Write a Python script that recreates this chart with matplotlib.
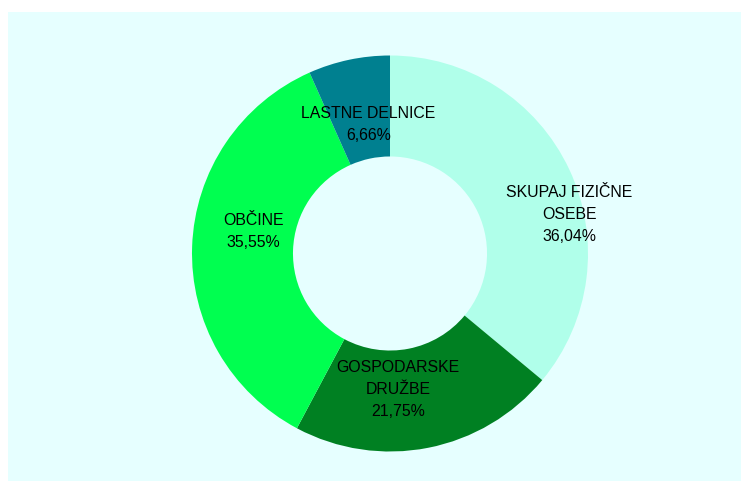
import numpy as np
import matplotlib.pyplot as plt
from matplotlib.patches import Rectangle

# Podatki
kategorije = ['SKUPAJ FIZIČNE\nOSEBE', 'GOSPODARSKE\nDRUŽBE', 'OBČINE', 'LASTNE DELNICE']
deleži = [36.04, 21.75, 35.55, 6.66]
barve = ['#B0FFEA', '#008022', '#00FF50', '#008090']

plt.rcParams['font.family'] = ['Liberation Sans', 'DejaVu Sans']

fig = plt.figure(figsize=(7.41, 4.84), dpi=100)
fig.patch.set_facecolor('white')

# Svetlo ozadje grafa
fig.patches.append(Rectangle((8 / 741, 3 / 484), 733 / 741, 469 / 484,
                             transform=fig.transFigure, facecolor='#E6FFFF',
                             edgecolor='none', zorder=-10))

ax = fig.add_axes([192 / 741, 32.5 / 484, 396 / 741, 396 / 484])
ax.set_facecolor('none')
ax.set_zorder(5)

wedges, _ = ax.pie(deleži, colors=barve, startangle=90, counterclock=False,
                   radius=1.0, wedgeprops=dict(width=0.51, edgecolor='none'))

# Položaji oznak (polmer, kot) kot v Excelu
polozaji = [(0.926, 12.4), (0.69, -86.6), (0.70, 170.7), (0.66, 99.6)]
for ime, vrednost, (r, kot) in zip(kategorije, deleži, polozaji):
    x = r * np.cos(np.radians(kot))
    y = r * np.sin(np.radians(kot))
    besedilo = ime + '\n' + f'{vrednost:.2f}'.replace('.', ',') + '%'
    ax.text(x, y, besedilo, ha='center', va='center', fontsize=11.4,
            linespacing=1.58, color='black')

ax.set_xlim(-1, 1)
ax.set_ylim(-1, 1)
ax.set_aspect('equal')
ax.axis('off')

plt.savefig('out.png', dpi=100)
